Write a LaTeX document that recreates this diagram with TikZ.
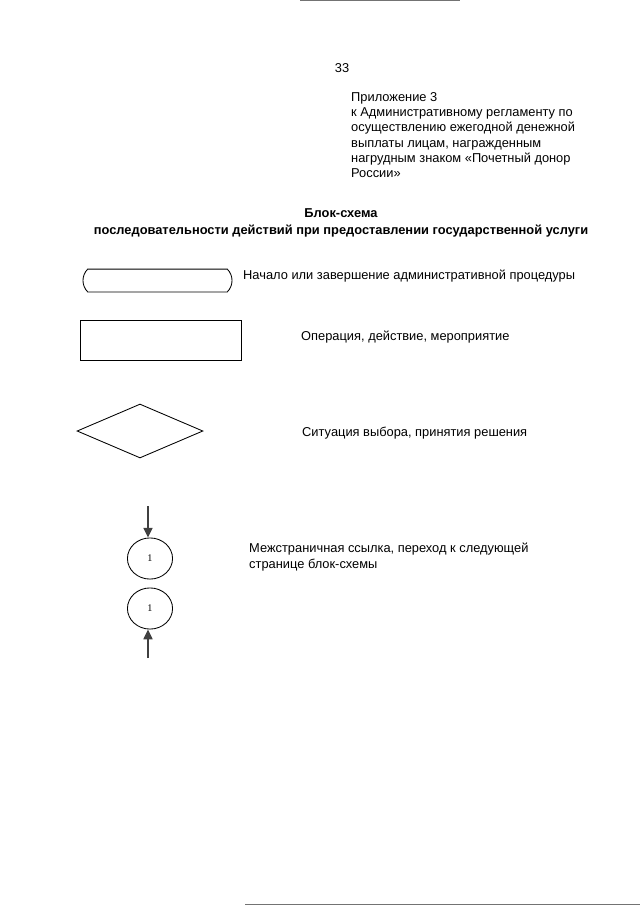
\documentclass[tikz,border=0pt]{standalone}
\usepackage{fontspec}
\setmainfont{Liberation Sans}
\newfontfamily\refnumfont{Liberation Serif}
\usetikzlibrary{arrows.meta,positioning,shapes.geometric,shapes.misc}
\tikzset{
  txt/.style={font=\fontsize{12}{14.3}\selectfont,inner sep=0pt,anchor=base west},
  ttl/.style={font=\fontsize{12}{15.5}\selectfont\bfseries,inner sep=0pt,align=center},
  term/.style={draw,thick,rounded rectangle,rounded rectangle arc length=90,
               minimum width=48.9mm,minimum height=7.5mm,inner sep=0pt},
  oper/.style={draw,thick,rectangle,minimum width=52.8mm,minimum height=13.1mm,
               inner sep=0pt},
  choice/.style={draw,thick,diamond,aspect=2.33,minimum width=41.3mm,
                 minimum height=17.7mm,inner sep=0pt},
  pageref/.style={draw,thick,ellipse,minimum width=14.8mm,minimum height=13.5mm,
                  inner sep=0pt,font=\refnumfont\fontsize{9.5}{10}\selectfont},
  arr/.style={-{Triangle[length=3.2mm,width=3mm]},very thick,color=black!75},
  edge/.style={line width=0.6pt,color=black!55},
}

\begin{document}
\begin{tikzpicture}[x=0.328125mm,y=-0.328125mm]
  \useasboundingbox (0,0) rectangle (640,905);

  % scan edges
  \draw[edge] (300,0.4) -- (460,0.4);
  \draw[edge] (245,904.5) -- (640,904.5);

  % Header
  \node[txt,anchor=base] (PAGE) at (342,72) {33};
  \node[txt,align=left,anchor=north west] (ANNEX) at (351,92)
    {Приложение 3\\
     к Административному регламенту по\\
     осуществлению ежегодной денежной\\
     выплаты лицам, награжденным\\
     нагрудным знаком «Почетный донор\\
     России»};

  \node[ttl] (TITLE) at (341,223)
    {Блок-схема\\
     последовательности действий при предоставлении государственной услуги};

  % Legend shapes
  \node[term]   (TERM)  at (157.5,280.5) {};
  \node[oper]   (OPER)  at (160.5,340)   {};
  \node[choice] (CHOICE)at (140,431)     {};
  \node[pageref](OUTREF)at (150,558.5)   {1};
  \node[pageref](INREF) at (150,608.5)   {1};

  \coordinate (OUTTOP) at (148,506);
  \coordinate (INBOT)  at (148,658);
  \draw[arr] (OUTTOP) -- (OUTTOP|-OUTREF.north);
  \draw[arr] (INBOT)  -- (INBOT|-INREF.south);

  % Legend texts
  \node[txt] (TERMTXT)   at (243,279) {Начало или завершение административной процедуры};
  \node[txt] (OPERTXT)   at (301,340) {Операция, действие, мероприятие};
  \node[txt] (CHOICETXT) at (302,436) {Ситуация выбора, принятия решения};
  \node[txt,align=left,anchor=north west] (REFTXT) at (249,543)
    {Межстраничная ссылка, переход к следующей\\
     странице блок-схемы};
\end{tikzpicture}
\end{document}
